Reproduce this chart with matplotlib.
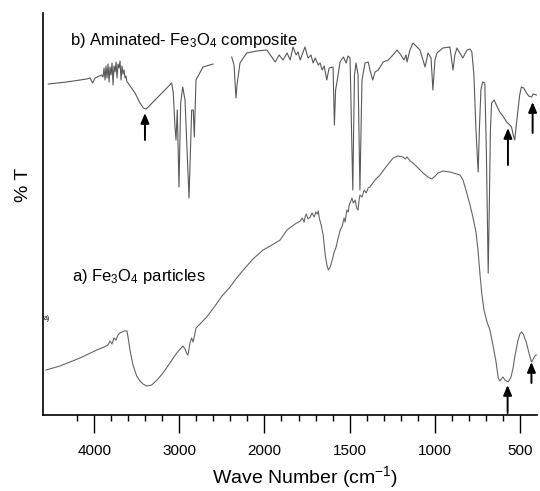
import numpy as np
import matplotlib
matplotlib.use("Agg")
import matplotlib.pyplot as plt

plt.rcParams['font.family'] = ['Liberation Sans', 'DejaVu Sans']
plt.rcParams['mathtext.fontset'] = 'custom'
plt.rcParams['mathtext.rm'] = 'Liberation Sans'
plt.rcParams['mathtext.it'] = 'Liberation Sans:italic'
plt.rcParams['mathtext.default'] = 'regular'

# ---- data (wavenumber in cm^-1, transmittance in arbitrary units) ----
wn_b = [4541, 4325, 4090, 4051, 4020, 3992, 3914,
        3898, 3886, 3874, 3863, 3851, 3839, 3827, 3816, 3804, 3792, 3780, 3769, 3757,
        3745, 3733, 3722, 3710, 3698, 3686, 3675, 3663, 3651, 3639, 3628, 3616, 3604,
        3522, 3463, 3424, 3393, 3366, 3287, 3193, 3091, 3072, 3052, 3040, 3025, 3005,
        2985, 2961, 2934, 2887, 2856, 2837, 2825, 2805, 2723, 2605,
        2500,
        2385, 2358, 2335, 2323, 2288, 2209, 2088, 1986, 1937, 1914, 1891, 1867, 1849,
        1832, 1814, 1803, 1790, 1779, 1762, 1744, 1727, 1714, 1702, 1684, 1673, 1661,
        1649, 1634, 1620, 1597, 1589, 1582, 1572, 1556, 1536, 1520, 1509, 1497, 1481,
        1471, 1462, 1450, 1439, 1427, 1409, 1390, 1380, 1364, 1350, 1331, 1303, 1272,
        1245, 1221, 1198, 1180, 1168, 1162, 1145, 1127, 1104, 1086, 1068, 1056, 1039,
        1021, 1010, 998, 986, 951, 910, 892, 881, 869, 834, 810, 792, 781, 769, 757,
        744, 737, 728, 718, 705, 696, 685, 678, 672, 665, 650, 634, 617, 599, 577,
        564, 548, 538, 529, 520, 510, 500, 490, 476, 460, 447, 431, 420, 402]
t_b = [331, 333, 336, 337, 332, 337, 340,
       338, 347, 335, 349, 337, 351, 333, 348, 340, 352, 330, 349, 343,
       353, 337, 351, 347, 354, 335, 349, 341, 345, 337, 339, 333, 332,
       322, 312, 307, 306, 308, 315, 323, 332, 322, 288, 275, 305, 228,
       312, 328, 315, 217, 305, 305, 278, 335, 348, 351,
       np.nan,
       358, 350, 317, 330, 352, 362, 364, 365, 353, 360, 355, 362, 355,
       368, 360, 363, 355, 360, 368, 357, 360, 352, 357, 350, 352, 345,
       349, 335, 347, 348, 290, 325, 335, 353, 358, 352, 359, 357, 225,
       340, 352, 340, 225, 335, 352, 353, 345, 335, 343, 345, 353, 355,
       360, 365, 360, 355, 360, 353, 365, 372, 368, 365, 355, 348, 362,
       357, 325, 355, 362, 367, 368, 345, 360, 367, 357, 365, 366, 363, 340, 285,
       243, 285, 325, 333, 332, 265, 142, 215, 285, 312, 315, 309, 303, 299, 293,
       291, 288, 280, 275, 290, 305, 320, 328, 327, 322, 319, 318, 321, 320]

wn_a = [4568, 4404, 4169, 3972, 3886, 3839, 3816, 3792, 3769, 3745, 3722, 3698,
        3651, 3616, 3604, 3581, 3546, 3502, 3463, 3428, 3385, 3326, 3263, 3193,
        3111, 3032, 2981, 2958, 2934, 2911, 2899, 2876, 2856, 2840, 2823, 2805,
        2758, 2679, 2582, 2499, 2405, 2327, 2229, 2135, 2017, 1966, 1908, 1868,
        1820, 1790, 1778, 1767, 1761, 1755, 1744, 1731, 1720, 1708, 1698, 1690,
        1684, 1678, 1667, 1655, 1643, 1632, 1624, 1614, 1605, 1590, 1579, 1567,
        1555, 1543, 1532, 1526, 1516, 1508, 1502, 1486, 1478, 1467, 1458, 1450,
        1443, 1439, 1427, 1414, 1402, 1391, 1380, 1350, 1321, 1286, 1244, 1215,
        1186, 1173, 1162, 1144, 1127, 1097, 1068, 1039, 1017, 997, 980, 951,
        910, 870, 851, 833, 816, 792, 775, 757, 745, 733, 723, 710, 692, 675,
        657, 639, 626, 616, 604, 598, 587, 567, 551, 539, 529, 511, 499, 489,
        479, 460, 447, 431, 423, 411, 402]
t_a = [45, 49, 57, 65, 68, 70, 74, 71, 77, 75, 80, 82,
       84, 84, 78, 65, 50, 39, 34, 31, 29, 30, 35, 42,
       52, 62, 67, 69, 66, 61, 60, 72, 77, 73, 79, 87,
       91, 98, 109, 119, 128, 137, 147, 156, 165, 169, 175, 185,
       191, 194, 197, 193, 198, 201, 196, 198, 202, 198, 203, 201,
       204, 197, 190, 180, 160, 149, 145, 148, 153, 163, 168, 177,
       185, 189, 197, 193, 205, 203, 210, 217, 212, 215, 207, 205,
       216, 220, 218, 225, 222, 227, 228, 235, 240, 248, 257, 259,
       258, 256, 258, 254, 252, 247, 242, 238, 236, 239, 242, 244,
       243, 241, 240, 235, 225, 210, 198, 183, 165, 140, 122, 105, 93, 85,
       70, 53, 37, 34, 37, 38, 35, 33, 38, 47, 58, 74, 81, 83,
       81, 72, 63, 53, 55, 59, 60]

arrow_wn = [3405, 569, 424, 571, 431]
arrow_head = [302, 287, 313, 30, 53]
arrow_tail = [275, 250, 282, 2, 32]

major_ticks = [4000, 3000, 2000, 1500, 1000, 500]
minor_ticks = [4200, 3800, 3600, 3400, 3200, 2800, 2600, 2400, 2200,
               1900, 1800, 1700, 1600, 1400, 1300, 1200, 1100, 900, 800, 700, 600]


def fwd(w):
    w = np.asarray(w, dtype=float)
    return np.where(w > 2000, 2000 + (w - 2000) / 2.0, w)


def inv(f):
    f = np.asarray(f, dtype=float)
    return np.where(f > 2000, 2000 + 2.0 * (f - 2000), f)


fig = plt.figure(figsize=(5.40, 4.91), dpi=100)
ax = fig.add_axes([43.3 / 540, 76 / 491, (536.7 - 43.3) / 540, 402 / 491])
ax.set_xscale('function', functions=(fwd, inv))
ax.set_xlim(4600, 400)
ax.set_ylim(0, 402)

ax.plot(wn_b, t_b, color='0.35', lw=0.8)
ax.plot(wn_a, t_a, color='0.4', lw=0.8)

for w, h, t in zip(arrow_wn, arrow_head, arrow_tail):
    ax.annotate('', xy=(w, h), xytext=(w, t),
                arrowprops=dict(arrowstyle='-|>,head_length=0.6,head_width=0.25',
                                color='black', lw=1.4, shrinkA=0, shrinkB=0))

ax.text(4286, 375, 'b) Aminated- Fe$_3$O$_4$ composite', fontsize=12,
        ha='left', va='center')
ax.text(4263, 138, 'a) Fe$_3$O$_4$ particles', fontsize=12, ha='left', va='center')
ax.text(4595, 96, 'a)', fontsize=5, ha='left', va='center')

for s in ['top', 'right']:
    ax.spines[s].set_visible(False)
for s in ['left', 'bottom']:
    ax.spines[s].set_linewidth(1.2)

ax.set_yticks([])
ax.set_xticks(major_ticks)
ax.set_xticklabels([str(v) for v in major_ticks])
ax.set_xticks(minor_ticks, minor=True)
ax.tick_params(axis='x', which='major', length=13, width=1.0, direction='out',
               labelsize=11, pad=8)
ax.tick_params(axis='x', which='minor', length=4.5, width=1.0, direction='out')

fig.text(305 / 540, 7.5 / 491, 'Wave Number (cm$^{-1}$)', fontsize=14,
         ha='center', va='baseline')
ax.set_ylabel('% T', fontsize=14)
ax.yaxis.set_label_coords(-0.023, 0.572)

fig.savefig('out.png', dpi=100)
